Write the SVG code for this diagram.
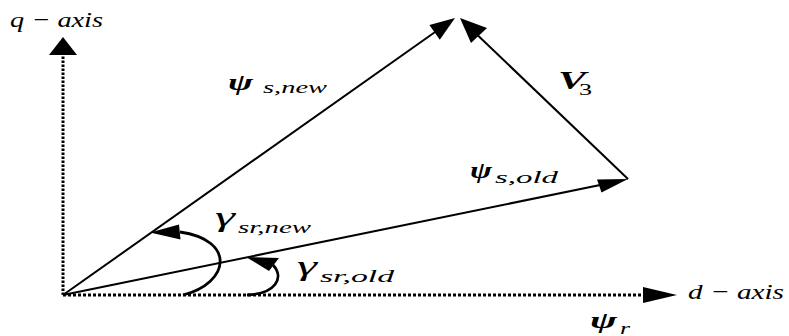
<svg xmlns="http://www.w3.org/2000/svg" width="789" height="336" viewBox="0 0 789 336">
<style>
  .axis { stroke: #000; stroke-width: 3; fill: none; }
  .vec { stroke: #000; stroke-width: 2; fill: none; }
  .arc { stroke: #000; stroke-width: 2.8; fill: none; }
  .head { fill: #000; stroke: none; }
  .lbl { font-family: "Liberation Serif", "Times New Roman", serif; font-style: italic; fill: #000; }
  .big { font-size: 22px; }
  .greek { font-size: 24px; }
  .gam { font-size: 27px; }
  .bold { font-weight: bold; }
  .sub { font-size: 16px; }
  .up { font-style: normal; }
</style>
<rect width="789" height="336" fill="#fff"/>

<g id="connectors">
  <g id="q-axis">
    <line class="axis" x1="63" y1="295" x2="63" y2="55" stroke-dasharray="2.5 1.5"/>
    <polygon class="head" points="63,37 77,55 49,55"/>
  </g>
  <g id="d-axis">
    <line class="axis" x1="63" y1="295" x2="644" y2="295" stroke-dasharray="3 2"/>
    <polygon class="head" points="677,295 643,287 643,303"/>
  </g>
  <g id="psi-s-new">
    <line class="vec" x1="63" y1="295" x2="445" y2="25"/>
    <polygon class="head" points="455,18 439.8,39.8 429.4,25"/>
  </g>
  <g id="v3">
    <line class="vec" x1="628" y1="179" x2="468" y2="26"/>
    <polygon class="head" points="460,18 487,28 471,43"/>
  </g>
  <g id="psi-s-old">
    <line class="vec" x1="63" y1="295" x2="605" y2="184"/>
    <polygon class="head" points="628,179 597,179.5 601.5,192.5"/>
  </g>
  <g id="gamma-new-arc">
    <path class="arc" d="M183,295 C230,283 236,240 180,232"/>
    <polygon class="head" points="150,232.5 179,224.5 180.5,239.5"/>
  </g>
  <g id="gamma-old-arc">
    <path class="arc" d="M247,295 C275,294 285,278 273,265"/>
    <polygon class="head" points="246,257 279,258 269,271"/>
  </g>
</g>

<g id="label-q-axis">
  <text class="lbl big" x="10" y="27" textLength="93" lengthAdjust="spacingAndGlyphs">q − axis</text>
</g>
<g id="label-d-axis">
  <text class="lbl big" x="688" y="299" textLength="96" lengthAdjust="spacingAndGlyphs">d − axis</text>
</g>
<g id="label-psi-s-new">
  <text class="lbl greek bold" x="228" y="90" textLength="25" lengthAdjust="spacingAndGlyphs">ψ</text>
  <text class="lbl sub" x="263" y="93" textLength="64" lengthAdjust="spacingAndGlyphs">s,new</text>
</g>
<g id="label-v3">
  <text class="lbl bold" style="font-size:26px" x="558" y="89" textLength="28" lengthAdjust="spacingAndGlyphs">V</text>
  <text class="lbl up" style="font-size:17px" x="579" y="95" textLength="13" lengthAdjust="spacingAndGlyphs">3</text>
</g>
<g id="label-psi-s-old">
  <text class="lbl greek bold" x="470" y="178" textLength="22" lengthAdjust="spacingAndGlyphs">ψ</text>
  <text class="lbl sub" x="495" y="183" textLength="63" lengthAdjust="spacingAndGlyphs">s,old</text>
</g>
<g id="label-gamma-new">
  <text class="lbl gam" x="215" y="226" textLength="20" lengthAdjust="spacingAndGlyphs">γ</text>
  <text class="lbl sub" x="238" y="233" textLength="73" lengthAdjust="spacingAndGlyphs">sr,new</text>
</g>
<g id="label-gamma-old">
  <text class="lbl gam" x="297" y="275" textLength="20" lengthAdjust="spacingAndGlyphs">γ</text>
  <text class="lbl sub" x="320" y="282" textLength="74" lengthAdjust="spacingAndGlyphs">sr,old</text>
</g>
<g id="label-psi-r">
  <text class="lbl greek bold" x="590" y="328" textLength="27" lengthAdjust="spacingAndGlyphs">ψ</text>
  <text class="lbl sub" x="620" y="334" textLength="10" lengthAdjust="spacingAndGlyphs">r</text>
</g>
</svg>
